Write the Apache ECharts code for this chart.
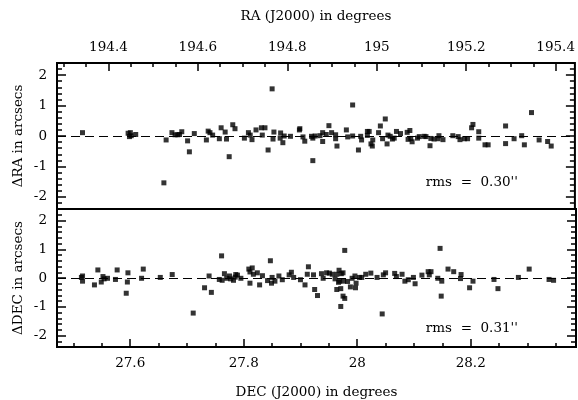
<!DOCTYPE html>
<html>
<head>
<meta charset="utf-8">
<script src="https://cdn.jsdelivr.net/npm/echarts@6/dist/echarts.min.js"></script>
<style>html,body{margin:0;padding:0;background:#fff}#c{width:578px;height:400px}</style>
</head>
<body>
<div id="c"></div>
<script>
// ---- data ----
const raX = [194.342,194.444,194.449,194.447,194.451,194.461,194.524,194.529,194.542,194.549,194.555,194.559,194.564,194.577,194.581,194.592,194.619,194.623,194.627,194.633,194.648,194.652,194.661,194.664,194.670,194.678,194.683,
194.704,194.713,194.717,194.721,194.730,194.742,194.750,194.744,194.757,194.766,194.770,194.768,194.785,194.784,194.790,194.793,194.807,194.828,194.827,194.835,194.839,194.854,194.857,194.857,194.862,194.873,194.879,194.879,194.887,194.893,194.899,194.908,194.908,194.911,194.932,194.935,194.946,194.946,194.959,194.964,194.966,194.979,194.983,194.979,194.987,194.990,194.991,195.004,195.008,195.013,195.019,195.023,195.025,195.030,195.035,195.039,195.044,195.053,195.068,195.070,
195.074,195.079,195.076,195.091,195.095,195.106,195.110,195.119,195.121,195.128,195.137,195.139,195.148,195.170,195.182,195.186,195.196,195.203,195.212,195.215,195.228,195.228,195.242,195.249,195.288,195.288,195.307,195.324,195.330,195.346,195.363,195.382,195.390];
const raDelta = [0.11,0.09,0.11,-0.02,0.01,0.05,-1.54,-0.13,0.11,0.04,0.04,0.05,0.14,-0.16,-0.52,0.08,-0.13,0.16,0.11,0.03,-0.09,0.27,0.13,-0.10,-0.68,0.37,0.24,
-0.07,0.11,0.03,-0.12,0.20,0.27,0.27,0.03,-0.46,1.55,0.13,-0.10,0.10,-0.07,-0.22,0.00,-0.01,0.24,0.20,-0.03,-0.17,-0.01,-0.07,-0.81,0.00,0.01,-0.18,0.11,0.05,0.34,0.11,0.04,-0.09,-0.33,0.20,-0.03,1.02,0.00,-0.46,-0.01,-0.13,0.15,0.15,0.02,-0.26,-0.33,-0.13,0.11,0.33,-0.09,0.56,-0.26,0.03,-0.01,-0.10,-0.07,0.15,0.08,0.12,-0.11,
0.18,-0.19,-0.08,-0.07,-0.02,-0.01,-0.02,-0.32,-0.08,-0.10,-0.09,0.01,-0.12,0.01,-0.02,-0.12,-0.09,-0.09,0.27,0.38,0.14,-0.07,-0.29,-0.29,0.33,-0.25,-0.09,0.01,-0.29,0.77,-0.13,-0.18,-0.33];

const decX = [27.514,27.516,27.516,27.537,27.543,27.549,27.552,27.554,27.560,27.574,27.577,27.593,27.595,27.596,27.620,27.623,27.653,27.674,27.711,27.731,27.739,27.743,27.757,27.761,27.762,27.766,27.770,27.775,27.777,27.782,27.785,27.786,27.789,27.795,
27.809,27.811,27.815,27.811,27.817,27.824,27.828,27.833,27.842,27.847,27.849,27.850,27.855,27.862,27.868,27.880,27.884,27.888,27.900,27.908,27.912,27.914,27.923,27.925,27.930,27.937,27.940,27.946,27.951,27.956,27.961,27.964,27.967,27.968,27.969,27.972,27.975,27.964,27.971,27.975,27.978,27.971,27.978,27.976,27.983,27.988,27.991,27.996,27.998,27.997,28.004,28.008,28.015,28.024,28.035,28.044,28.046,28.050,28.066,28.069,28.079,28.084,28.090,
28.099,28.102,28.114,28.125,28.127,28.130,28.142,28.146,28.149,28.148,28.160,28.170,28.182,28.183,28.198,28.204,28.241,28.248,28.284,28.303,28.338,28.346];
const decDelta = [0.02,0.07,-0.11,-0.24,0.28,-0.14,0.05,-0.03,-0.01,-0.05,0.28,-0.53,-0.14,0.18,-0.01,0.31,0.02,0.12,-1.22,-0.34,0.07,-0.50,-0.05,0.77,-0.08,0.15,-0.01,0.07,-0.03,-0.08,0.03,0.12,0.10,-0.01,
0.31,0.21,0.35,-0.18,0.13,0.18,-0.24,0.08,-0.09,0.60,-0.18,0.02,-0.11,0.07,-0.06,0.11,0.20,0.02,-0.06,-0.24,0.13,0.39,0.11,-0.40,-0.61,0.15,-0.01,0.18,0.17,0.13,-0.03,0.13,-0.15,0.27,-0.11,0.15,0.18,-0.40,-0.37,-0.63,-0.71,-0.99,0.96,-0.11,-0.12,-0.31,-0.01,0.07,-0.18,-0.34,0.02,0.02,0.13,0.17,0.02,-1.25,0.11,0.18,0.16,0.05,0.13,-0.11,-0.06,
0.02,-0.20,0.10,0.22,0.11,0.22,-0.01,1.03,-0.11,-0.63,0.31,0.22,-0.02,0.12,-0.34,-0.11,-0.05,-0.37,0.02,0.31,-0.05,-0.08];

// ---- tick values / axis extents ----
const raRange = [194.285, 195.443];
const decRange = [27.471, 28.3855];
const deltaRange = [-2.4, 2.4];
const raMajorTicks = [194.4, 194.6, 194.8, 195, 195.2, 195.4];
const raMinorTicks = [194.3,194.35,194.45,194.5,194.55,194.65,194.7,194.75,194.85,194.9,194.95,195.05,195.1,195.15,195.25,195.3,195.35];
const decMajorTicks = [27.6, 27.8, 28, 28.2];
const decMinorTicks = [27.5,27.55,27.65,27.7,27.75,27.85,27.9,27.95,28.05,28.1,28.15,28.25,28.3,28.35];
const deltaMajorTicks = [-2, -1, 0, 1, 2];
const deltaMinorTicks = [-2.2,-1.8,-1.6,-1.4,-1.2,-0.8,-0.6,-0.4,-0.2,0.2,0.4,0.6,0.8,1.2,1.4,1.6,1.8,2.2];
const rmsTexts = ["rms  =  0.30''", "rms  =  0.31''"];

const FONT = 'DejaVu Serif';
const chart = echarts.init(document.getElementById('c'), null, {renderer: 'canvas'});

function xAxisDef(grid, pos, range, ticks, major, name, nameGap) {
  return {
    type: 'value', gridIndex: grid, position: pos, min: range[0], max: range[1],
    axisLine: {show: false, onZero: false}, splitLine: {show: false},
    axisTick: {show: true, inside: true, length: major ? 8 : 4, customValues: ticks,
      lineStyle: {color: '#000', width: 1.5}},
    axisLabel: major ? {show: true, customValues: ticks, color: '#000', fontFamily: FONT, fontSize: 13.5, margin: 9}
                     : {show: false},
    name: name || '', nameLocation: 'middle', nameGap: nameGap || 0, nameMoveOverlap: false,
    nameTextStyle: {color: '#000', fontFamily: FONT, fontSize: 13.5}
  };
}
function yAxisDef(grid, pos, ticks, major, labels, name) {
  return {
    type: 'value', gridIndex: grid, position: pos, min: deltaRange[0], max: deltaRange[1],
    axisLine: {show: false, onZero: false}, splitLine: {show: false},
    axisTick: {show: true, inside: true, length: major ? 9 : 5, customValues: ticks,
      lineStyle: {color: '#000', width: 1.5}},
    axisLabel: labels ? {show: true, customValues: ticks, color: '#000', fontFamily: FONT, fontSize: 13.5, margin: 10,
      formatter: v => String(v)} : {show: false},
    name: name || '', nameLocation: 'middle', nameGap: 32, nameRotate: 90, nameMoveOverlap: false,
    nameTextStyle: {color: '#000', fontFamily: FONT, fontSize: 13.5}
  };
}

const zeroLine = {
  silent: true, symbol: 'none', label: {show: false},
  lineStyle: {color: '#000', type: [9, 5], width: 1.1},
  data: [{yAxis: 0}]
};

chart.setOption({
  backgroundColor: '#fff',
  animation: false,
  grid: [
    {left: 57, right: 2, top: 63, height: 146, show: true, borderColor: '#000', borderWidth: 2, backgroundColor: 'transparent'},
    {left: 57, right: 2, top: 209, height: 146, show: true, borderColor: '#000', borderWidth: 2, backgroundColor: 'transparent'}
  ],
  xAxis: [
    xAxisDef(0, 'top', raRange, raMajorTicks, true, 'RA (J2000) in degrees', 40),
    xAxisDef(0, 'top', raRange, raMinorTicks, false),
    xAxisDef(1, 'bottom', decRange, decMajorTicks, true, 'DEC (J2000) in degrees', 38),
    xAxisDef(1, 'bottom', decRange, decMinorTicks, false)
  ],
  yAxis: [
    yAxisDef(0, 'left', deltaMajorTicks, true, true, 'ΔRA in arcsecs'),
    yAxisDef(0, 'left', deltaMinorTicks, false, false),
    yAxisDef(0, 'right', deltaMajorTicks, true, false),
    yAxisDef(0, 'right', deltaMinorTicks, false, false),
    yAxisDef(1, 'left', deltaMajorTicks, true, true, 'ΔDEC in arcsecs'),
    yAxisDef(1, 'left', deltaMinorTicks, false, false),
    yAxisDef(1, 'right', deltaMajorTicks, true, false),
    yAxisDef(1, 'right', deltaMinorTicks, false, false)
  ],
  series: [
    {type: 'scatter', xAxisIndex: 0, yAxisIndex: 0, symbol: 'rect', symbolSize: 5,
     itemStyle: {color: '#000'}, data: raX.map((x, i) => [x, raDelta[i]]), markLine: zeroLine, z: 3},
    {type: 'scatter', xAxisIndex: 2, yAxisIndex: 4, symbol: 'rect', symbolSize: 5,
     itemStyle: {color: '#000'}, data: decX.map((x, i) => [x, decDelta[i]]), markLine: zeroLine, z: 3}
  ],
  graphic: [
    {type: 'text', right: 60, top: 175, style: {text: rmsTexts[0], fill: '#000', font: '13.5px "DejaVu Serif"'}},
    {type: 'text', right: 60, top: 321, style: {text: rmsTexts[1], fill: '#000', font: '13.5px "DejaVu Serif"'}}
  ]
});
</script>
</body>
</html>
